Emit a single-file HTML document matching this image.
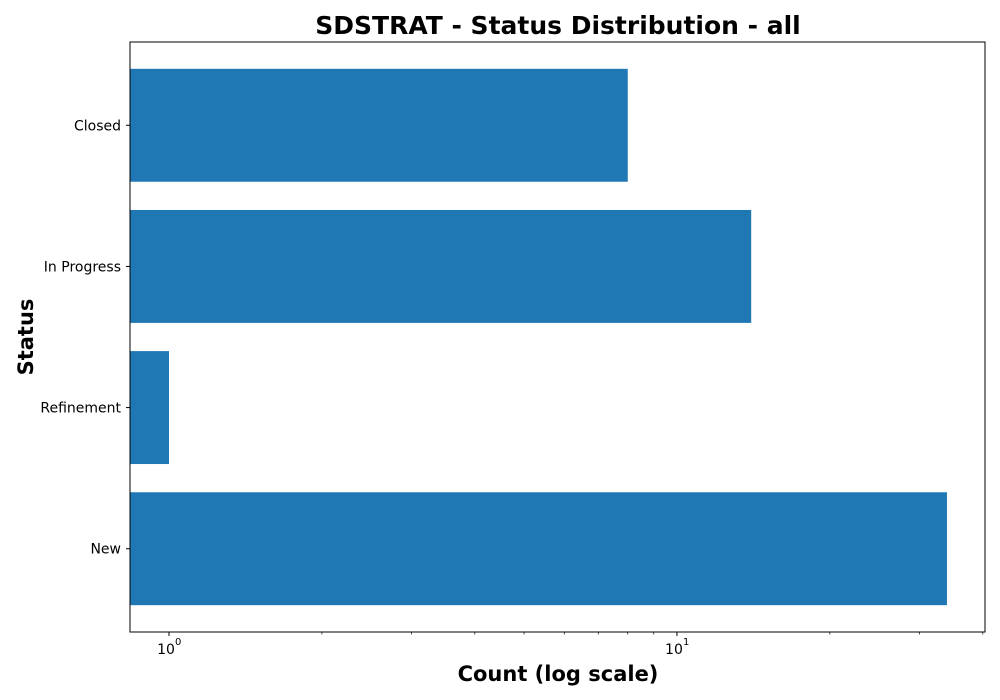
<!DOCTYPE html>
<html><head><meta charset="utf-8"><style>body{margin:0;background:#fff}svg{display:block;font-family:"DejaVu Sans","Liberation Sans",sans-serif}</style></head>
<body>
<svg id="chart" width="1000" height="700" viewBox="0 0 1000 700" xmlns="http://www.w3.org/2000/svg">
<rect width="1000" height="700" fill="#fff"/>
<text x="558" y="34" text-anchor="middle" font-size="25" font-weight="bold">SDSTRAT - Status Distribution - all</text>
<text x="558" y="681" text-anchor="middle" font-size="21" font-weight="bold">Count (log scale)</text>
<text transform="translate(33,337) rotate(-90)" text-anchor="middle" font-size="21" font-weight="bold">Status</text>
<g id="plot"></g>
<rect x="130" y="42" width="855" height="590" fill="none" stroke="#000" stroke-width="1"/>
</svg>
<script>
const categories = ["New", "Refinement", "In Progress", "Closed"];
const counts = [34, 1, 14, 8];
const majorTicks = [1, 10];
const majorTickLabels = ["10", "10"];
const minorTicks = [2,3,4,5,6,7,8,9,20,30,40];

const L=130,R=985,T=42,B=632;
const xmin=Math.log10(0.838), xmax=Math.log10(40.4);
const x=v=>L+(Math.log10(v)-xmin)/(xmax-xmin)*(R-L);
const ymin=-0.59, ymax=categories.length-1+0.59;
const y=i=>B-(i-ymin)/(ymax-ymin)*(B-T);
const bandH=0.8*(B-T)/(ymax-ymin);
const g=document.getElementById('plot');
const NS="http://www.w3.org/2000/svg";
function mk(t,a){const e=document.createElementNS(NS,t);for(const k in a)e.setAttribute(k,a[k]);g.appendChild(e);return e;}
categories.forEach((c,i)=>{
  const r=mk('rect',{x:L,y:y(i)-bandH/2,width:x(counts[i])-L,height:bandH,fill:'#1f77b4'});
  
  
  const tk=mk('line',{x1:L-4,x2:L,y1:y(i),y2:y(i),stroke:'#000'});
  
  
  const t=mk('text',{x:L-9,y:y(i)+5,'text-anchor':'end','font-size':14});
  t.textContent=c;
  
  
});
majorTicks.forEach((v,i)=>{
  const tk=mk('line',{x1:x(v),x2:x(v),y1:B,y2:B+4,stroke:'#000'});
  
  
  const t=mk('text',{x:x(v)-3,y:B+22,'text-anchor':'middle','font-size':14});
  t.textContent=majorTickLabels[i];
  
  
  const s=mk('text',{x:x(v)+6,y:B+13,'font-size':10});
  s.textContent=String(Math.round(Math.log10(v)));
  
  
});
minorTicks.forEach(v=>{
  const tk=mk('line',{x1:x(v),x2:x(v),y1:B,y2:B+2.5,stroke:'#000','stroke-width':0.7});
  
  
});
</script>
</body></html>
